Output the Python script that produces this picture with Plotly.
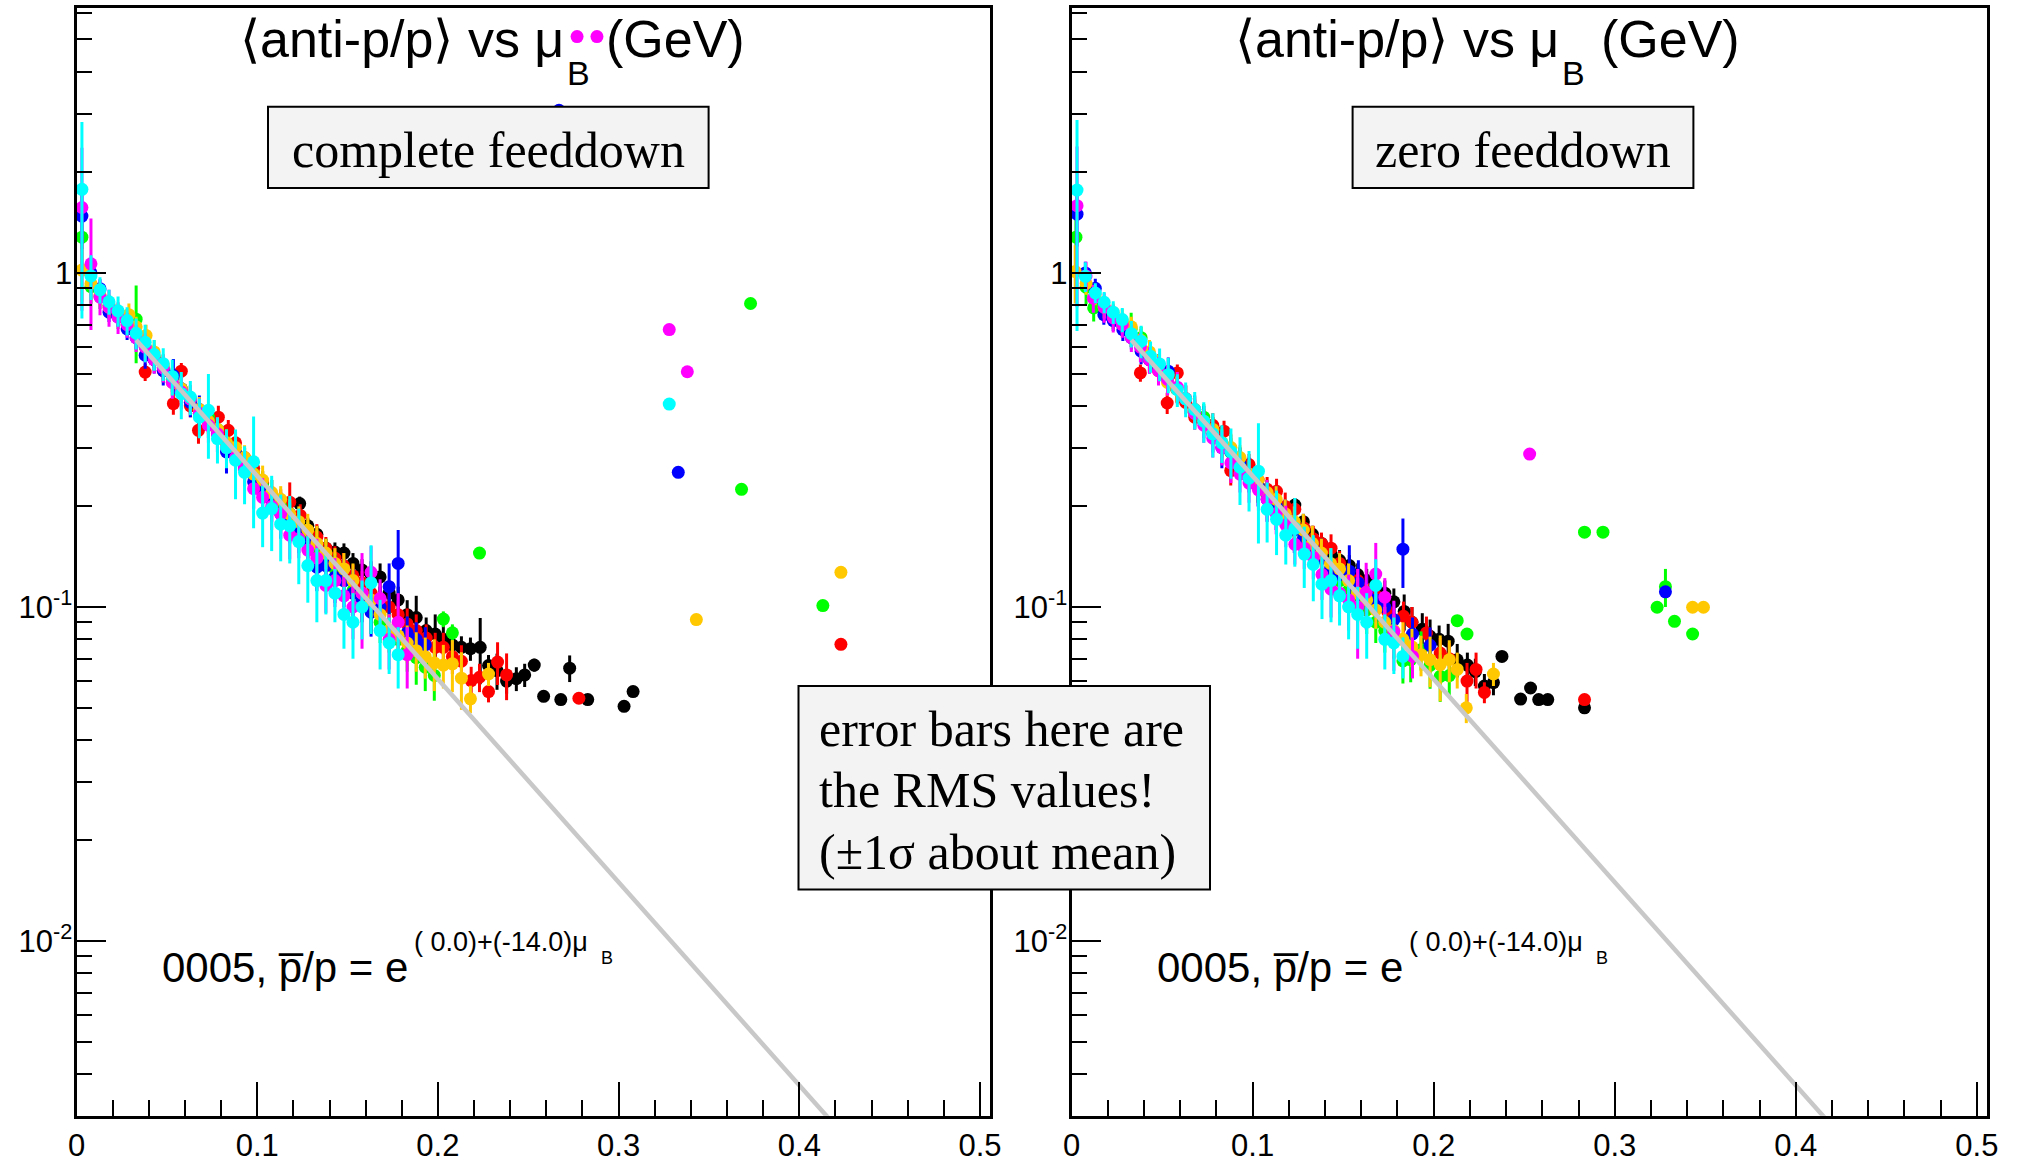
import math
import plotly.graph_objects as go

# ---------------- data ----------------
# Left panel: "complete feeddown"
L_blk_x = [0.118, 0.1235, 0.128, 0.133, 0.138, 0.143, 0.148, 0.153, 0.158, 0.163, 0.168, 0.173, 0.178, 0.183, 0.188, 0.1935, 0.1985, 0.203, 0.208, 0.213, 0.218, 0.2234, 0.228, 0.2327, 0.238, 0.2434, 0.248, 0.2533, 0.2585, 0.268, 0.2729, 0.2829, 0.303, 0.308]
L_blk_y = [0.19, 0.204, 0.175, 0.165, 0.15, 0.146, 0.145, 0.135, 0.129, 0.125, 0.123, 0.11, 0.105, 0.0948, 0.093, 0.085, 0.083, 0.08, 0.077, 0.0757, 0.075, 0.0757, 0.0668, 0.0645, 0.06, 0.061, 0.0626, 0.067, 0.054, 0.0528, 0.0656, 0.0528, 0.0504, 0.0558]
L_blk_e = [0.01, 0.01, 0.01, 0.01, 0.01, 0.01, 0.01, 0.01, 0.01, 0.012, 0.012, 0.01, 0.01, 0.01, 0.015, 0.008, 0.012, 0.008, 0.008, 0.006, 0.006, 0.017, 0.005, 0.008, 0.005, 0.005, 0.005, 0.003, 0, 0, 0.006, 0, 0, 0]

L_red_x = [0.038, 0.043, 0.048, 0.0536, 0.058, 0.063, 0.0675, 0.073, 0.0785, 0.084, 0.088, 0.093, 0.098, 0.103, 0.108, 0.113, 0.118, 0.1238, 0.128, 0.133, 0.138, 0.143, 0.1477, 0.153, 0.158, 0.163, 0.168, 0.173, 0.178, 0.183, 0.188, 0.1935, 0.1985, 0.203, 0.208, 0.213, 0.2184, 0.223, 0.228, 0.233, 0.238, 0.278, 0.423]
L_red_y = [0.505, 0.55, 0.51, 0.406, 0.508, 0.40, 0.338, 0.36, 0.37, 0.338, 0.31, 0.28, 0.26, 0.235, 0.21, 0.205, 0.206, 0.188, 0.1675, 0.162, 0.15, 0.14, 0.133, 0.124, 0.118, 0.11, 0.105, 0.10, 0.0948, 0.089, 0.085, 0.0807, 0.0757, 0.0757, 0.071, 0.0688, 0.0602, 0.0616, 0.0558, 0.0684, 0.0626, 0.0533, 0.0773]
L_red_e = [0.03, 0.03, 0.03, 0.03, 0.03, 0.03, 0.03, 0.03, 0.03, 0.025, 0.025, 0.02, 0.02, 0.02, 0.02, 0.02, 0.03, 0.015, 0.015, 0.015, 0.012, 0.012, 0.012, 0.01, 0.01, 0.012, 0.01, 0.01, 0.01, 0.01, 0.01, 0.008, 0.008, 0.008, 0.008, 0.008, 0.006, 0.006, 0.004, 0.01, 0.01, 0, 0]

L_grn_x = [0.003, 0.008, 0.013, 0.018, 0.023, 0.028, 0.033, 0.038, 0.043, 0.048, 0.053, 0.058, 0.063, 0.068, 0.073, 0.078, 0.083, 0.088, 0.093, 0.098, 0.103, 0.108, 0.113, 0.118, 0.123, 0.128, 0.133, 0.138, 0.143, 0.148, 0.153, 0.158, 0.163, 0.168, 0.173, 0.178, 0.183, 0.188, 0.193, 0.198, 0.203, 0.208, 0.223, 0.368, 0.373, 0.413]
L_grn_y = [1.28, 0.91, 0.85, 0.80, 0.74, 0.70, 0.727, 0.60, 0.56, 0.52, 0.48, 0.45, 0.42, 0.38, 0.37, 0.34, 0.31, 0.29, 0.27, 0.25, 0.23, 0.215, 0.20, 0.185, 0.17, 0.16, 0.15, 0.14, 0.13, 0.12, 0.112, 0.105, 0.098, 0.09, 0.085, 0.08, 0.074, 0.0705, 0.066, 0.0624, 0.092, 0.0837, 0.145, 0.225, 0.81, 0.101]
L_grn_e = [0.3, 0.1, 0.07, 0.06, 0.06, 0.05, 0.19, 0.05, 0.05, 0.05, 0.04, 0.04, 0.04, 0.035, 0.035, 0.03, 0.03, 0.03, 0.03, 0.025, 0.025, 0.025, 0.02, 0.02, 0.02, 0.02, 0.02, 0.02, 0.015, 0.015, 0.015, 0.015, 0.015, 0.012, 0.012, 0.01, 0.01, 0.012, 0.01, 0.01, 0.005, 0.005, 0, 0, 0, 0]

L_blu_x = [0.003, 0.008, 0.013, 0.018, 0.023, 0.028, 0.033, 0.038, 0.043, 0.048, 0.0536, 0.058, 0.063, 0.068, 0.073, 0.078, 0.083, 0.088, 0.093, 0.098, 0.103, 0.108, 0.113, 0.118, 0.123, 0.128, 0.133, 0.138, 0.143, 0.148, 0.153, 0.158, 0.163, 0.168, 0.173, 0.178, 0.183, 0.188, 0.193, 0.267, 0.333]
L_blu_y = [1.48, 1.0, 0.897, 0.763, 0.74, 0.68, 0.64, 0.567, 0.55, 0.51, 0.493, 0.45, 0.41, 0.39, 0.36, 0.33, 0.291, 0.29, 0.26, 0.237, 0.22, 0.21, 0.19, 0.18, 0.17, 0.155, 0.1315, 0.133, 0.1228, 0.12, 0.11, 0.105, 0.0965, 0.1, 0.115, 0.135, 0.0837, 0.08, 0.077, 3.07, 0.253]
L_blu_e = [0.3, 0.08, 0.06, 0.05, 0.05, 0.05, 0.05, 0.05, 0.05, 0.05, 0.06, 0.04, 0.04, 0.04, 0.04, 0.04, 0.04, 0.035, 0.03, 0.04, 0.03, 0.03, 0.03, 0.025, 0.025, 0.02, 0.02, 0.02, 0.02, 0.02, 0.02, 0.015, 0.015, 0.015, 0.02, 0.035, 0.01, 0.01, 0.01, 0, 0]

L_yel_x = [0.003, 0.008, 0.013, 0.018, 0.023, 0.029, 0.033, 0.0385, 0.043, 0.048, 0.053, 0.058, 0.063, 0.068, 0.073, 0.078, 0.083, 0.088, 0.093, 0.098, 0.103, 0.108, 0.113, 0.118, 0.123, 0.128, 0.133, 0.138, 0.143, 0.148, 0.153, 0.158, 0.163, 0.168, 0.173, 0.178, 0.183, 0.188, 0.193, 0.198, 0.203, 0.208, 0.213, 0.218, 0.228, 0.343, 0.423]
L_yel_y = [1.02, 0.93, 0.86, 0.79, 0.76, 0.75, 0.69, 0.65, 0.58, 0.53, 0.47, 0.45, 0.42, 0.39, 0.36, 0.34, 0.31, 0.30, 0.28, 0.25, 0.24, 0.22, 0.21, 0.19, 0.18, 0.17, 0.155, 0.145, 0.135, 0.13, 0.12, 0.11, 0.105, 0.095, 0.085, 0.082, 0.078, 0.074, 0.071, 0.068, 0.067, 0.0676, 0.0612, 0.0531, 0.063, 0.0917, 0.127]
L_yel_e = [0.2, 0.07, 0.06, 0.06, 0.05, 0.06, 0.05, 0.05, 0.05, 0.04, 0.04, 0.04, 0.04, 0.035, 0.03, 0.03, 0.03, 0.03, 0.025, 0.025, 0.025, 0.02, 0.02, 0.02, 0.02, 0.02, 0.02, 0.015, 0.015, 0.015, 0.015, 0.012, 0.012, 0.012, 0.01, 0.01, 0.01, 0.01, 0.01, 0.012, 0.01, 0.012, 0.012, 0.005, 0.005, 0, 0]

L_mag_x = [0.003, 0.008, 0.013, 0.018, 0.023, 0.028, 0.033, 0.038, 0.043, 0.048, 0.053, 0.058, 0.063, 0.068, 0.073, 0.078, 0.083, 0.088, 0.093, 0.098, 0.103, 0.108, 0.113, 0.118, 0.123, 0.128, 0.133, 0.138, 0.143, 0.148, 0.153, 0.158, 0.163, 0.168, 0.173, 0.178, 0.183, 0.277, 0.288, 0.328, 0.338]
L_mag_y = [1.57, 1.065, 0.847, 0.79, 0.737, 0.70, 0.64, 0.60, 0.55, 0.52, 0.47, 0.44, 0.42, 0.38, 0.35, 0.33, 0.30, 0.28, 0.26, 0.226, 0.213, 0.20, 0.19, 0.164, 0.16, 0.148, 0.14, 0.116, 0.12, 0.108, 0.10, 0.11, 0.127, 0.106, 0.08, 0.09, 0.072, 5.1, 5.1, 0.677, 0.506]
L_mag_e = [0.8, 0.39, 0.1, 0.1, 0.08, 0.06, 0.06, 0.06, 0.05, 0.05, 0.05, 0.05, 0.04, 0.04, 0.04, 0.04, 0.035, 0.035, 0.03, 0.03, 0.03, 0.03, 0.025, 0.025, 0.02, 0.02, 0.02, 0.02, 0.02, 0.015, 0.02, 0.035, 0.025, 0.015, 0.015, 0.02, 0.015, 0, 0, 0, 0]

L_cyn_x = [0.003, 0.008, 0.013, 0.018, 0.023, 0.028, 0.033, 0.038, 0.043, 0.048, 0.053, 0.058, 0.063, 0.068, 0.073, 0.078, 0.083, 0.088, 0.093, 0.098, 0.103, 0.108, 0.113, 0.118, 0.123, 0.128, 0.133, 0.138, 0.143, 0.148, 0.153, 0.158, 0.163, 0.168, 0.173, 0.178, 0.328]
L_cyn_y = [1.78, 0.98, 0.89, 0.82, 0.77, 0.72, 0.66, 0.62, 0.57, 0.535, 0.49, 0.435, 0.425, 0.37, 0.388, 0.319, 0.30, 0.275, 0.253, 0.272, 0.191, 0.197, 0.177, 0.175, 0.157, 0.133, 0.12, 0.12, 0.11, 0.095, 0.09, 0.10, 0.118, 0.085, 0.078, 0.072, 0.405]
L_cyn_e = [1.05, 0.15, 0.08, 0.07, 0.08, 0.07, 0.07, 0.08, 0.06, 0.06, 0.06, 0.07, 0.05, 0.05, 0.11, 0.05, 0.04, 0.065, 0.05, 0.1, 0.04, 0.05, 0.04, 0.04, 0.04, 0.03, 0.03, 0.025, 0.02, 0.02, 0.02, 0.02, 0.035, 0.02, 0.015, 0.015, 0]

# Right panel: "zero feeddown"
R_blk_x = [0.1233, 0.128, 0.133, 0.138, 0.1433, 0.148, 0.1534, 0.158, 0.163, 0.168, 0.173, 0.178, 0.1837, 0.188, 0.1937, 0.198, 0.203, 0.208, 0.213, 0.2186, 0.223, 0.228, 0.233, 0.2377, 0.248, 0.2535, 0.258, 0.263, 0.2833]
R_blk_y = [0.202, 0.18, 0.165, 0.155, 0.144, 0.138, 0.133, 0.125, 0.12, 0.115, 0.11, 0.1036, 0.097, 0.09, 0.0858, 0.0817, 0.08, 0.079, 0.0695, 0.067, 0.064, 0.058, 0.0594, 0.0711, 0.053, 0.0572, 0.0528, 0.0528, 0.0499]
R_blk_e = [0.01, 0.01, 0.01, 0.01, 0.01, 0.01, 0.01, 0.01, 0.01, 0.01, 0.01, 0.01, 0.012, 0.01, 0.01, 0.01, 0.008, 0.01, 0.008, 0.006, 0.006, 0.005, 0.005, 0, 0, 0, 0, 0, 0]

R_red_x = [0.038, 0.043, 0.048, 0.0528, 0.0584, 0.063, 0.068, 0.073, 0.078, 0.0842, 0.0879, 0.093, 0.098, 0.103, 0.108, 0.1132, 0.118, 0.1233, 0.1285, 0.1335, 0.138, 0.1433, 0.148, 0.153, 0.158, 0.163, 0.168, 0.1746, 0.1833, 0.188, 0.196, 0.2036, 0.2086, 0.2184, 0.2234, 0.228, 0.2833]
R_red_y = [0.502, 0.55, 0.51, 0.408, 0.502, 0.41, 0.37, 0.36, 0.35, 0.336, 0.256, 0.27, 0.267, 0.24, 0.225, 0.222, 0.2, 0.196, 0.172, 0.16, 0.155, 0.15, 0.135, 0.125, 0.12, 0.113, 0.108, 0.0968, 0.0938, 0.09, 0.0836, 0.0728, 0.07, 0.060, 0.065, 0.0555, 0.0528]
R_red_e = [0.03, 0.03, 0.03, 0.03, 0.03, 0.03, 0.03, 0.03, 0.03, 0.025, 0.025, 0.02, 0.02, 0.02, 0.02, 0.02, 0.02, 0.015, 0.015, 0.015, 0.012, 0.015, 0.012, 0.01, 0.01, 0.012, 0.01, 0.01, 0.01, 0.01, 0.01, 0.008, 0.008, 0.008, 0.008, 0.004, 0]

R_grn_x = [0.0024, 0.008, 0.0122, 0.018, 0.023, 0.028, 0.0329, 0.0384, 0.043, 0.048, 0.053, 0.058, 0.063, 0.068, 0.073, 0.078, 0.083, 0.088, 0.093, 0.098, 0.103, 0.108, 0.113, 0.118, 0.123, 0.128, 0.133, 0.138, 0.143, 0.148, 0.153, 0.158, 0.163, 0.168, 0.173, 0.178, 0.183, 0.1873, 0.193, 0.198, 0.2036, 0.2086, 0.213, 0.2184, 0.2833, 0.2935, 0.3234, 0.328, 0.333, 0.343]
R_grn_y = [1.28, 0.906, 0.786, 0.78, 0.74, 0.70, 0.68, 0.64, 0.56, 0.52, 0.48, 0.45, 0.42, 0.38, 0.37, 0.34, 0.31, 0.29, 0.27, 0.25, 0.23, 0.215, 0.2, 0.185, 0.17, 0.16, 0.15, 0.14, 0.13, 0.12, 0.112, 0.105, 0.098, 0.09, 0.085, 0.08, 0.069, 0.0695, 0.0745, 0.0669, 0.062, 0.0623, 0.091, 0.083, 0.1675, 0.1675, 0.0998, 0.115, 0.0906, 0.083]
R_grn_e = [0.3, 0.1, 0.07, 0.06, 0.06, 0.05, 0.08, 0.05, 0.05, 0.05, 0.04, 0.04, 0.04, 0.035, 0.035, 0.03, 0.03, 0.03, 0.03, 0.025, 0.025, 0.025, 0.02, 0.02, 0.02, 0.02, 0.02, 0.02, 0.015, 0.015, 0.015, 0.015, 0.015, 0.012, 0.012, 0.01, 0.01, 0.01, 0.01, 0.01, 0.01, 0.008, 0, 0, 0, 0, 0, 0.015, 0, 0]

R_blu_x = [0.003, 0.0076, 0.0131, 0.0178, 0.023, 0.0283, 0.033, 0.0384, 0.043, 0.048, 0.0534, 0.058, 0.063, 0.068, 0.073, 0.078, 0.083, 0.0879, 0.093, 0.098, 0.103, 0.108, 0.113, 0.118, 0.123, 0.128, 0.133, 0.138, 0.143, 0.148, 0.1534, 0.1584, 0.163, 0.168, 0.173, 0.178, 0.183, 0.1883, 0.198, 0.328]
R_blu_y = [1.5, 1.0, 0.90, 0.75, 0.72, 0.676, 0.64, 0.583, 0.55, 0.52, 0.508, 0.45, 0.42, 0.39, 0.36, 0.33, 0.30, 0.292, 0.27, 0.25, 0.23, 0.21, 0.2, 0.185, 0.17, 0.16, 0.15, 0.14, 0.13, 0.125, 0.128, 0.118, 0.11, 0.105, 0.1, 0.0916, 0.149, 0.083, 0.0768, 0.111]
R_blu_e = [0.3, 0.08, 0.06, 0.05, 0.05, 0.05, 0.05, 0.05, 0.05, 0.05, 0.05, 0.04, 0.04, 0.04, 0.04, 0.04, 0.04, 0.035, 0.03, 0.03, 0.03, 0.03, 0.03, 0.025, 0.025, 0.02, 0.02, 0.02, 0.02, 0.02, 0.025, 0.02, 0.015, 0.015, 0.015, 0.012, 0.035, 0.01, 0.01, 0]

R_yel_x = [0.002, 0.008, 0.013, 0.018, 0.023, 0.028, 0.033, 0.038, 0.043, 0.048, 0.053, 0.058, 0.063, 0.068, 0.073, 0.078, 0.083, 0.088, 0.093, 0.098, 0.103, 0.108, 0.113, 0.118, 0.123, 0.128, 0.133, 0.138, 0.143, 0.148, 0.153, 0.158, 0.163, 0.168, 0.173, 0.178, 0.183, 0.188, 0.193, 0.198, 0.2036, 0.2086, 0.213, 0.218, 0.233, 0.343, 0.349]
R_yel_y = [1.01, 0.93, 0.86, 0.79, 0.76, 0.72, 0.69, 0.63, 0.58, 0.53, 0.47, 0.45, 0.42, 0.39, 0.36, 0.34, 0.31, 0.30, 0.28, 0.25, 0.24, 0.22, 0.21, 0.19, 0.18, 0.17, 0.155, 0.145, 0.135, 0.13, 0.12, 0.11, 0.105, 0.098, 0.09, 0.085, 0.08, 0.076, 0.072, 0.0695, 0.0672, 0.0695, 0.065, 0.0499, 0.063, 0.0998, 0.0998]
R_yel_e = [0.2, 0.07, 0.06, 0.06, 0.05, 0.06, 0.05, 0.05, 0.05, 0.04, 0.04, 0.04, 0.04, 0.035, 0.03, 0.03, 0.03, 0.03, 0.025, 0.025, 0.025, 0.02, 0.02, 0.02, 0.02, 0.02, 0.02, 0.015, 0.015, 0.015, 0.015, 0.012, 0.012, 0.012, 0.01, 0.01, 0.01, 0.01, 0.01, 0.012, 0.015, 0.01, 0.008, 0.005, 0.005, 0, 0]

R_mag_x = [0.003, 0.008, 0.012, 0.018, 0.023, 0.028, 0.033, 0.038, 0.043, 0.048, 0.053, 0.0584, 0.063, 0.068, 0.073, 0.078, 0.083, 0.088, 0.093, 0.098, 0.1032, 0.108, 0.113, 0.1183, 0.1233, 0.1285, 0.1335, 0.1383, 0.1433, 0.148, 0.153, 0.158, 0.1627, 0.168, 0.173, 0.178, 0.1883, 0.253]
R_mag_y = [1.59, 0.98, 0.84, 0.79, 0.733, 0.70, 0.64, 0.60, 0.55, 0.51, 0.48, 0.455, 0.42, 0.38, 0.35, 0.32, 0.30, 0.27, 0.25, 0.235, 0.224, 0.21, 0.19, 0.176, 0.154, 0.15, 0.141, 0.125, 0.113, 0.11, 0.105, 0.1, 0.1106, 0.1255, 0.107, 0.0844, 0.0711, 0.287]
R_mag_e = [0.8, 0.1, 0.08, 0.08, 0.07, 0.06, 0.06, 0.06, 0.05, 0.05, 0.05, 0.05, 0.04, 0.04, 0.04, 0.04, 0.035, 0.035, 0.03, 0.03, 0.03, 0.03, 0.025, 0.025, 0.02, 0.02, 0.02, 0.02, 0.02, 0.015, 0.02, 0.03, 0.025, 0.03, 0.015, 0.02, 0.01, 0]

R_cyn_x = [0.003, 0.0076, 0.0131, 0.018, 0.023, 0.028, 0.033, 0.0384, 0.0436, 0.0486, 0.0534, 0.0584, 0.063, 0.068, 0.073, 0.078, 0.083, 0.088, 0.093, 0.098, 0.1032, 0.108, 0.1132, 0.1183, 0.1233, 0.1285, 0.1335, 0.1383, 0.1433, 0.148, 0.153, 0.158, 0.163, 0.168, 0.173, 0.178, 0.183]
R_cyn_y = [1.77, 0.977, 0.871, 0.817, 0.763, 0.725, 0.658, 0.625, 0.563, 0.534, 0.496, 0.447, 0.42, 0.39, 0.36, 0.33, 0.31, 0.292, 0.262, 0.243, 0.255, 0.196, 0.183, 0.164, 0.172, 0.144, 0.134, 0.117, 0.12, 0.108, 0.1, 0.095, 0.09, 0.116, 0.08, 0.078, 0.0711]
R_cyn_e = [1.1, 0.1, 0.06, 0.06, 0.06, 0.06, 0.06, 0.07, 0.06, 0.06, 0.06, 0.05, 0.05, 0.05, 0.05, 0.05, 0.04, 0.05, 0.06, 0.05, 0.1, 0.04, 0.04, 0.03, 0.04, 0.03, 0.03, 0.025, 0.03, 0.02, 0.02, 0.02, 0.02, 0.023, 0.015, 0.015, 0.01]

# fit shown in the chart: ratio = exp(p0 + p1 * muB)
FIT_P0 = 0.0
FIT_P1 = -14.0
FIT_MU = [0.033, 0.45]

X_TICKS = [0, 0.1, 0.2, 0.3, 0.4, 0.5]
X_TICK_TEXT = ["0", "0.1", "0.2", "0.3", "0.4", "0.5"]
Y_TICKS = [0.01, 0.1, 1]
Y_TICK_TEXT = ["10<sup>-2</sup>", "10<sup>-1</sup>", "1"]
Y_MINOR = [0.004, 0.005, 0.006, 0.007, 0.008, 0.009,
           0.02, 0.03, 0.04, 0.05, 0.06, 0.07, 0.08, 0.09,
           0.2, 0.3, 0.4, 0.5, 0.6, 0.7, 0.8, 0.9,
           2, 3, 4, 5, 6]

TITLE_MAIN = "⟨anti-p/p⟩ vs μ"
TITLE_SUB = "B"
TITLE_UNIT = "(GeV)"
LABEL_L = "complete feeddown"
LABEL_R = "zero feeddown"
NOTE_LINES = ["error bars here are", "the RMS values!", "(±1σ about mean)"]
FORMULA_MAIN = "0005, p\u0305/p = e"
FORMULA_SUP = "( 0.0)+(-14.0)μ"
FORMULA_SUB = "B"

# ---------------- figure ----------------
W, H = 2020, 1163
def px(v): return v / W
def py(v): return 1 - v / H

SERIES_COLORS = ["#000000", "#ff0000", "#00ff00", "#0000ff", "#ffc800", "#ff00ff", "#00ffff"]
left_sets = [(L_blk_x, L_blk_y, L_blk_e), (L_red_x, L_red_y, L_red_e), (L_grn_x, L_grn_y, L_grn_e),
             (L_blu_x, L_blu_y, L_blu_e), (L_yel_x, L_yel_y, L_yel_e), (L_mag_x, L_mag_y, L_mag_e),
             (L_cyn_x, L_cyn_y, L_cyn_e)]
right_sets = [(R_blk_x, R_blk_y, R_blk_e), (R_red_x, R_red_y, R_red_e), (R_grn_x, R_grn_y, R_grn_e),
              (R_blu_x, R_blu_y, R_blu_e), (R_yel_x, R_yel_y, R_yel_e), (R_mag_x, R_mag_y, R_mag_e),
              (R_cyn_x, R_cyn_y, R_cyn_e)]

fig = go.Figure()
fit_y = [math.exp(FIT_P0 + FIT_P1 * m) for m in FIT_MU]
for sets, xa, ya in [(left_sets, "x", "y"), (right_sets, "x2", "y2")]:
    for (xs, ys, es), col in zip(sets, SERIES_COLORS):
        fig.add_trace(go.Scatter(
            x=xs, y=ys, xaxis=xa, yaxis=ya, mode="markers",
            marker=dict(size=13, color=col, line=dict(width=0)),
            error_y=dict(type="data", array=es, visible=True, color=col, thickness=3, width=0),
            showlegend=False, hoverinfo="skip", cliponaxis=True))
    fig.add_trace(go.Scatter(x=FIT_MU, y=fit_y, xaxis=xa, yaxis=ya, mode="lines",
                             line=dict(color="#c8c8c8", width=4.5), showlegend=False, hoverinfo="skip"))

TICKFONT = dict(family="Liberation Sans, Arial, sans-serif", size=31, color="black")

def xaxis_cfg(dom):
    return dict(domain=dom, range=[0, 0.5055], tickmode="array", tickvals=X_TICKS, ticktext=X_TICK_TEXT,
                ticks="inside", ticklen=34, tickwidth=2, tickcolor="black",
                minor=dict(dtick=0.02, tick0=0, ticks="inside", ticklen=16, tickwidth=2, tickcolor="black"),
                showline=True, linewidth=3, linecolor="black", mirror=True, automargin=False,
                showgrid=False, zeroline=False, tickfont=TICKFONT, ticklabelstandoff=0)

def yaxis_cfg(anchor):
    return dict(domain=[py(1115.7), py(8.4)], anchor=anchor, type="log", range=[-2.523, 0.792],
                tickmode="array", tickvals=Y_TICKS, ticktext=Y_TICK_TEXT,
                ticks="inside", ticklen=29, tickwidth=2, tickcolor="black",
                minor=dict(tickmode="array", tickvals=Y_MINOR, ticks="inside", ticklen=15, tickwidth=2, tickcolor="black"),
                showline=True, linewidth=3, linecolor="black", mirror=True, automargin=False,
                showgrid=False, zeroline=False, tickfont=TICKFONT, ticklabelstandoff=-5)

fig.update_layout(
    width=W, height=H, margin=dict(l=0, r=0, t=0, b=0, autoexpand=False),
    paper_bgcolor="white", plot_bgcolor="white",
    xaxis=dict(xaxis_cfg([px(76.5), px(990)]), anchor="y"),
    yaxis=yaxis_cfg("x"),
    xaxis2=dict(xaxis_cfg([px(1071.6), px(1986.8)]), anchor="y2"),
    yaxis2=yaxis_cfg("x2"),
)

shapes = []
for (x0, x1, y0, y1) in [(268, 708.6, 106.8, 187.9), (1352.6, 1693.4, 106.8, 187.9), (798.5, 1210, 686, 889.4)]:
    shapes.append(dict(type="rect", xref="paper", yref="paper", x0=px(x0), x1=px(x1), y0=py(y1), y1=py(y0),
                       fillcolor="#f3f3f3", line=dict(color="black", width=2), layer="above"))
fig.update_layout(shapes=shapes)

SANS = "Liberation Sans, Arial, sans-serif"
SERIF = "Liberation Serif, Times New Roman, serif"

def txt(text, x, y, size, family=SANS, xanchor="left"):
    return dict(text=text, x=px(x), y=py(y), xref="paper", yref="paper", xanchor=xanchor, yanchor="middle",
                showarrow=False, borderpad=0, font=dict(family=family, size=size, color="black"))

ann = []
for x0 in (239, 1234):
    ann.append(txt(TITLE_MAIN, x0, 39.5, 52))
    ann.append(txt(TITLE_SUB, x0 + 327, 73, 34))
    ann.append(txt(TITLE_UNIT, x0 + 366, 39.5, 52))
ann.append(txt(LABEL_L, 488.3, 150, 50, SERIF, "center"))
ann.append(txt(LABEL_R, 1523, 150, 50, SERIF, "center"))
for i, line in enumerate(NOTE_LINES):
    ann.append(txt(line, 818, 728.6 + i * 61.6, 50, SERIF))
for x0 in (160.7, 1156):
    ann.append(txt(FORMULA_MAIN, x0, 967.5, 42))
    ann.append(txt(FORMULA_SUP, x0 + 252, 941.5, 27))
    ann.append(txt(FORMULA_SUB, x0 + 439, 958.3, 18))
fig.update_layout(annotations=ann)

fig.write_html("out.html")
